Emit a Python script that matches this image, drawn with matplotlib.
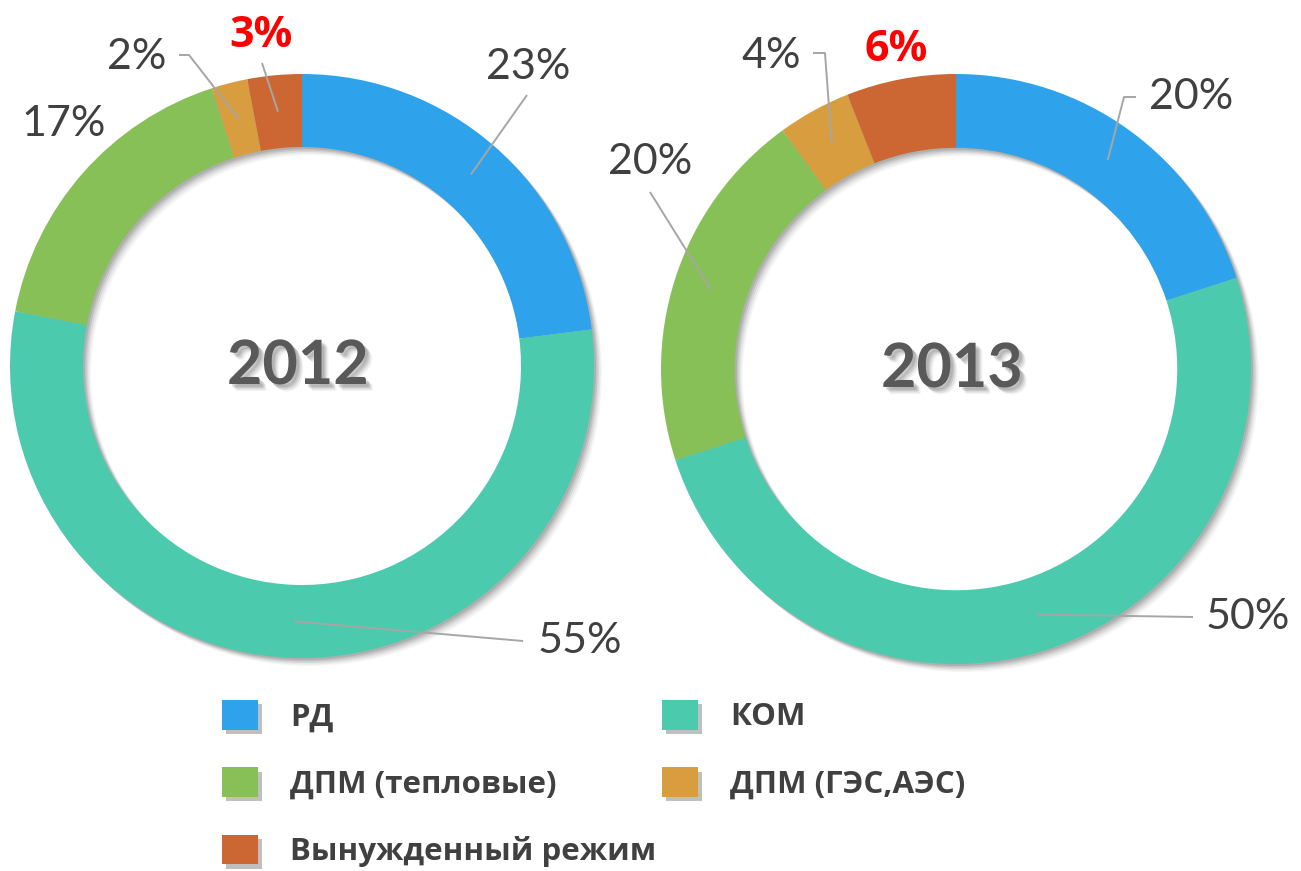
import matplotlib
matplotlib.use("Agg")
import matplotlib.pyplot as plt
import matplotlib.patheffects as pe
import numpy as np

W, H = 1301, 871

categories = ["РД", "КОМ", "ДПМ (тепловые)", "ДПМ (ГЭС,АЭС)", "Вынужденный режим"]
colors = ["#2FA2EC", "#4BCAAD", "#88C058", "#D89D3F", "#CC6633"]
years = ["2012", "2013"]
shares_2012 = [23, 55, 17, 2, 3]
shares_2013 = [20, 50, 20, 4, 6]
highlight = 4  # "Вынужденный режим" label is bold red

# layout, in picture pixels (x to the right, y down)
centers = [(302, 366), (956, 369)]
radii = [292, 295]
ring = 0.25
label_pos = [
    [(528, 67), (580, 641), (64, 124), (137, 57), (261, 36)],
    [(1191, 97), (1248, 617), (650, 162), (771, 56), (896, 50)],
]
leaders = [
    [[(527, 95)], [(523, 641)], None, [(189, 55), (179, 55)], [(262, 63)]],
    [[(1124, 97), (1136, 97)], [(1193, 617)], [(650, 192)], [(825, 53), (813, 53)], None],
]


def px(p):
    return p[0], H - p[1]


fig = plt.figure(figsize=(W / 100, H / 100), dpi=100)
ax = fig.add_axes([0, 0, 1, 1])

all_wedges = []
for k, vals in enumerate([shares_2012, shares_2013]):
    cx, cy = px(centers[k])
    r = radii[k]
    # soft drop shadow under the ring
    for d, a in [(8, 0.04), (6.5, 0.05), (5, 0.07), (3.5, 0.09), (2, 0.1)]:
        ax.pie([1], colors=["black"], radius=r, center=(cx + d, cy - d),
               wedgeprops=dict(width=r * ring, linewidth=0, alpha=a))
    wedges, _ = ax.pie(vals, colors=colors, startangle=90, counterclock=False,
                       radius=r, center=(cx, cy),
                       wedgeprops=dict(width=r * ring, linewidth=0))
    all_wedges.append(wedges)

    rmid = r * (1 - ring / 2)
    for i, w in enumerate(wedges):
        th = np.deg2rad((w.theta1 + w.theta2) / 2)
        anchor = (cx + rmid * np.cos(th), cy + rmid * np.sin(th))
        if leaders[k][i] is not None:
            pts = [anchor] + [px(p) for p in leaders[k][i]]
            xs, ys = zip(*pts)
            ax.plot(xs, ys, color="#A6A6A6", lw=1.4, solid_capstyle="butt", zorder=3)
        tx, ty = px(label_pos[k][i])
        if i == highlight:
            ax.text(tx, ty, f"{vals[i]}%", ha="center", va="center", fontsize=31,
                    fontweight="bold", color="#FF0000", family="Open Sans", zorder=4)
        else:
            ax.text(tx, ty, f"{vals[i]}%", ha="center", va="center", fontsize=31,
                    fontweight="normal", color="#404040", family="Lato", zorder=4)

    shadow = [pe.SimplePatchShadow(offset=(o, -o), shadow_rgbFace="black", alpha=a)
              for o, a in [(5, 0.05), (4, 0.08), (3, 0.1), (2, 0.1)]]
    ax.text(cx - 4, cy, years[k], ha="center", va="center", fontsize=44,
            fontweight="bold", color="#595959", family="Lato", zorder=5,
            path_effects=shadow + [pe.Normal()])

ax.set_xlim(0, W)
ax.set_ylim(0, H)
ax.set_aspect("equal")
ax.axis("off")

order = [0, 2, 4, 1, 3]
leg = fig.legend([all_wedges[0][i] for i in order], [categories[i] for i in order],
                 ncol=2, loc="upper left", bbox_to_anchor=(222 / W, 1 - 700 / H),
                 frameon=False, prop=dict(family="Open Sans", weight="bold", size=22.5),
                 labelcolor="#404040", handlelength=1.15, handleheight=1.08,
                 handletextpad=1.02, labelspacing=1.12, columnspacing=0.2,
                 borderpad=0, borderaxespad=0)
for h in leg.legend_handles:
    h.set_path_effects([pe.SimplePatchShadow(offset=(3, -3), shadow_rgbFace="black", alpha=0.25),
                        pe.Normal()])

fig.savefig("out.png", dpi=100)
